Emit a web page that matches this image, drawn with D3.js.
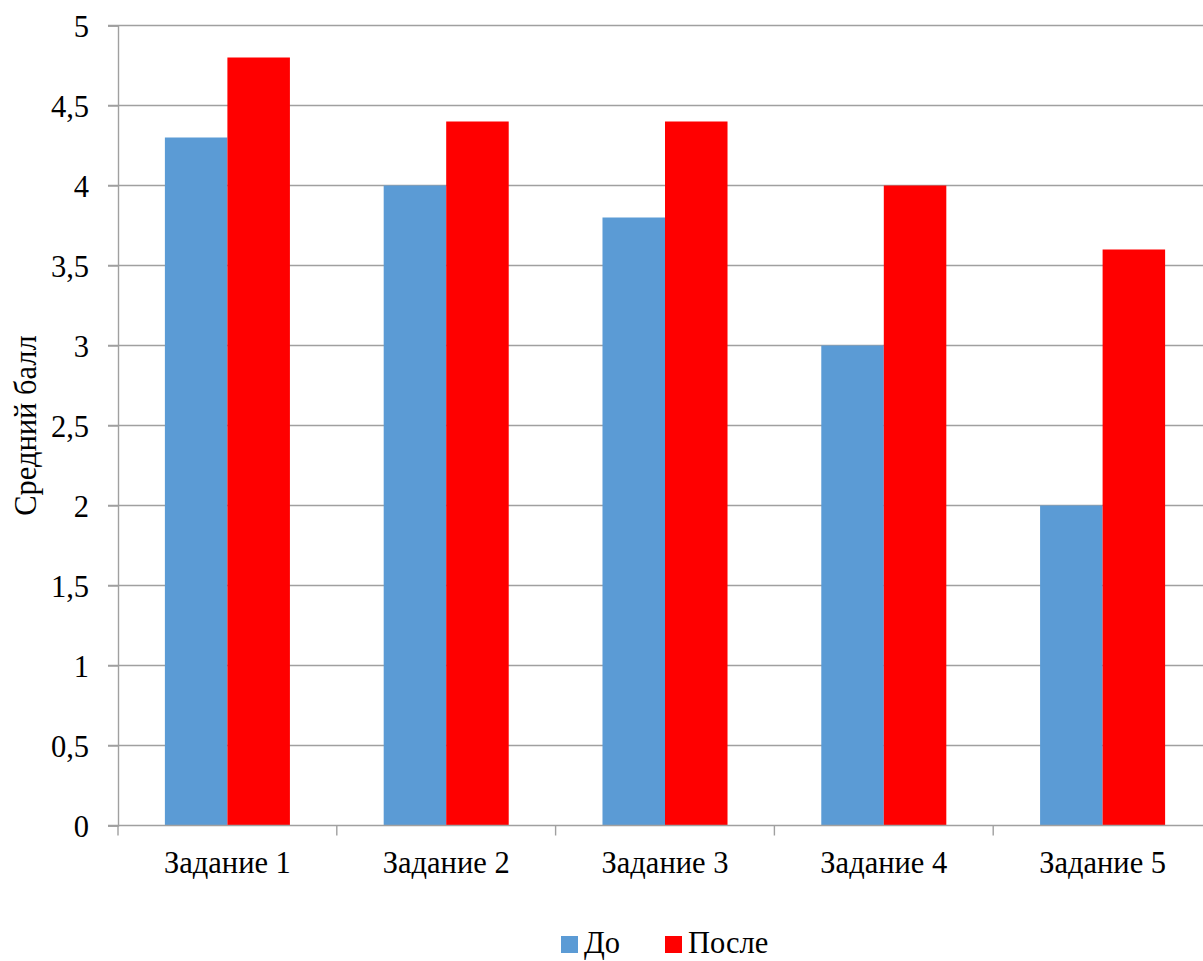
<!DOCTYPE html>
<html>
<head>
<meta charset="utf-8">
<script src="https://cdn.jsdelivr.net/npm/d3@7"></script>
<style>
  html, body { margin: 0; padding: 0; background: #fff; }
  svg { display: block; }
</style>
</head>
<body>
<svg id="chart" width="1203" height="961"></svg>
<script>
const categories = ["Задание 1", "Задание 2", "Задание 3", "Задание 4", "Задание 5"];
const seriesNames = ["До", "После"];
const valuesBefore = [4.3, 4.0, 3.8, 3.0, 2.0];
const valuesAfter = [4.8, 4.4, 4.4, 4.0, 3.6];
const seriesColors = ["#5b9bd5", "#ff0000"];
const yTicks = [0, 0.5, 1, 1.5, 2, 2.5, 3, 3.5, 4, 4.5, 5];
const yTickLabels = ["0", "0,5", "1", "1,5", "2", "2,5", "3", "3,5", "4", "4,5", "5"];
const yTitle = "Средний балл";

const svg = d3.select("#chart");
const plotLeft = 118, plotRight = 1212, plotTop = 25.5, plotBottom = 825.5;
const fontSize = "30.5px";
const fontFam = "'Liberation Serif', 'Times New Roman', serif";
const gridColor = "#a0a0a0";

function styleText(sel) {
  return sel.style("font-family", fontFam).style("font-size", fontSize).style("fill", "#000");
}

const x = d3.scaleBand().domain(categories).range([plotLeft, plotRight]).padding(0);
const bw = x.bandwidth();
const barW = bw / 3.5;
const xSub = d3.scaleBand().domain(seriesNames).range([barW * 0.75, bw - barW * 0.75]).padding(0);
const y = d3.scaleLinear().domain([0, 5]).range([plotBottom, plotTop]);

// gridlines
svg.append("g").selectAll("line").data(yTicks.filter(t => t > 0)).join("line")
  .attr("x1", plotLeft - 10).attr("x2", plotRight)
  .attr("y1", d => y(d)).attr("y2", d => y(d))
  .attr("stroke", gridColor).attr("stroke-width", 1.4);

// bars
const data = categories.map((c, i) => ({ cat: c, vals: [valuesBefore[i], valuesAfter[i]] }));
const groups = svg.append("g").selectAll("g").data(data).join("g")
  .attr("transform", d => `translate(${x(d.cat)},0)`);
groups.selectAll("rect").data(d => d.vals.map((v, j) => ({ s: seriesNames[j], v, j }))).join("rect")
  .attr("x", d => xSub(d.s))
  .attr("width", xSub.bandwidth())
  .attr("y", d => y(d.v))
  .attr("height", d => y(0) - y(d.v))
  .attr("fill", d => seriesColors[d.j]);

// y axis
const yAxis = d3.axisLeft(y).tickValues(yTicks).tickSize(10).tickPadding(19)
  .tickFormat((d, i) => yTickLabels[i]);
const gy = svg.append("g").attr("transform", `translate(${plotLeft},0)`).call(yAxis);
gy.select(".domain").attr("stroke", gridColor).attr("stroke-width", 1.4);
gy.selectAll(".tick line").attr("stroke", gridColor).attr("stroke-width", 1.4);
styleText(gy.selectAll(".tick text")).attr("dy", "0.35em");

// x axis
const gx = svg.append("g").attr("transform", `translate(0,${plotBottom})`)
  .call(d3.axisBottom(x).tickSize(0).tickPadding(0));
gx.select(".domain").remove();
gx.append("line").attr("x1", plotLeft - 10).attr("x2", plotRight).attr("y1", 0).attr("y2", 0)
  .attr("stroke", gridColor).attr("stroke-width", 1.4);
const bounds = categories.map(c => x(c)).concat([x(categories[categories.length - 1]) + bw]);
gx.selectAll(".bt").data(bounds).join("line").attr("class", "bt")
  .attr("x1", d => d).attr("x2", d => d).attr("y1", 0).attr("y2", 10)
  .attr("stroke", gridColor).attr("stroke-width", 1.4);
styleText(gx.selectAll(".tick text")).attr("dy", null).attr("y", 47);

// y title
styleText(svg.append("text")
  .attr("transform", `translate(36,${(plotTop + plotBottom) / 2}) rotate(-90)`)
  .attr("text-anchor", "middle"))
  .text(yTitle);

// legend
const legendX = [561, 665];
const lg = svg.append("g").selectAll("g").data(seriesNames).join("g")
  .attr("transform", (d, i) => `translate(${legendX[i]},936)`);
lg.append("rect").attr("width", 17).attr("height", 17).attr("fill", (d, i) => seriesColors[i]);
styleText(lg.append("text").attr("x", 23).attr("y", 17)).text(d => d);
</script>
</body>
</html>
